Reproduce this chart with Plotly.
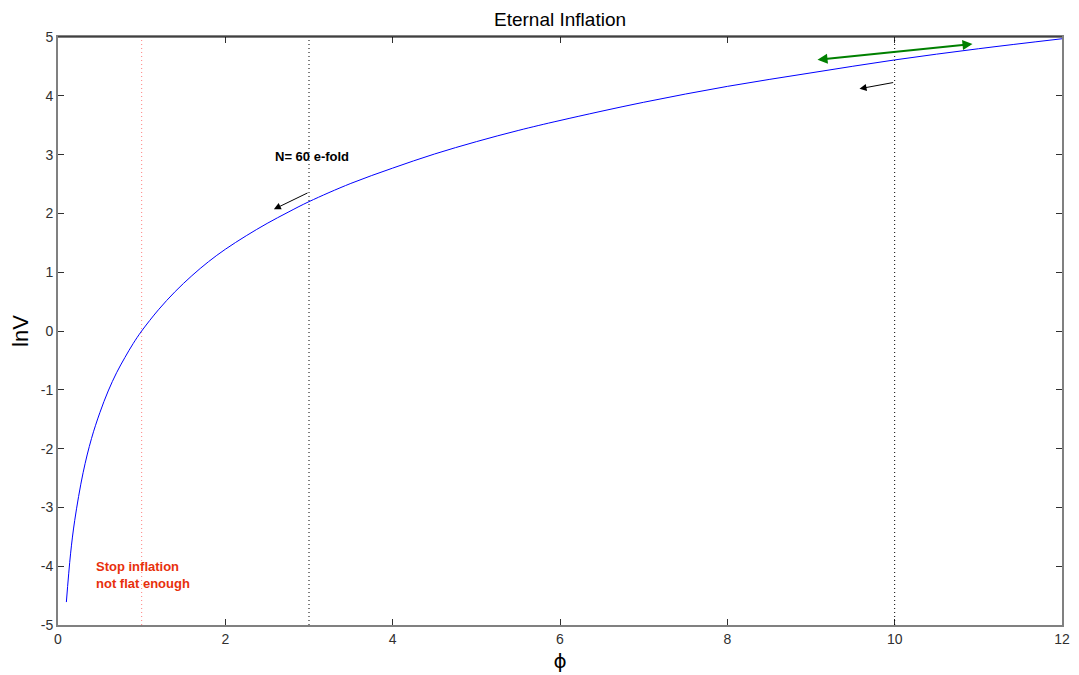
import plotly.graph_objects as go

# Curve values
phi = [0.1, 0.15, 0.2, 0.3, 0.4, 0.5, 0.6, 0.7, 0.8, 0.9, 1.0, 1.2, 1.4, 1.6, 1.8,
       2.0, 2.25, 2.5, 2.75, 3.0, 3.5, 4.0, 4.5, 5.0, 5.5, 6.0, 7.0, 8.0, 9.0,
       10.0, 11.0, 12.0]
lnV = [-4.61, -3.79, -3.22, -2.41, -1.83, -1.39, -1.02, -0.71, -0.45, -0.21, 0.0,
       0.36, 0.67, 0.94, 1.18, 1.39, 1.62, 1.83, 2.02, 2.20, 2.51, 2.77, 3.01,
       3.22, 3.41, 3.58, 3.89, 4.16, 4.39, 4.61, 4.80, 4.97]

x_ticks = [0, 2, 4, 6, 8, 10, 12]
x_tick_labels = ["0", "2", "4", "6", "8", "10", "12"]
y_ticks = [-5, -4, -3, -2, -1, 0, 1, 2, 3, 4, 5]
y_tick_labels = ["-5", "-4", "-3", "-2", "-1", "0", "1", "2", "3", "4", "5"]

red_line_x = [1]
black_lines_x = [3, 10]

# arrows: (tail_x, tail_y, head_x, head_y)
black_arrows = [(3.0, 2.36, 2.58, 2.07), (10.0, 4.23, 9.58, 4.12)]
green_arrow = (9.06, 4.61, 10.93, 4.88)

FONT = "Arial, Liberation Sans"

fig = go.Figure()
fig.add_trace(go.Scatter(x=phi, y=lnV, mode="lines", line_shape="spline",
                         line=dict(color="#0000ff", width=1), showlegend=False))

for xv in red_line_x:
    fig.add_shape(type="line", x0=xv, x1=xv, y0=-5, y1=5, xref="x", yref="y",
                  line=dict(color="#ff8080", width=1, dash="1px,3px"))
for xv in black_lines_x:
    fig.add_shape(type="line", x0=xv, x1=xv, y0=-5, y1=5, xref="x", yref="y",
                  line=dict(color="#000000", width=1, dash="1px,3px"))

# top border black
fig.add_shape(type="line", x0=0, x1=1, y0=1, y1=1, xref="paper", yref="paper",
              line=dict(color="#000000", width=1))

for tx, ty, hx, hy in black_arrows:
    fig.add_annotation(x=hx, y=hy, ax=tx, ay=ty, xref="x", yref="y", axref="x", ayref="y",
                       text="", showarrow=True, arrowhead=2, arrowsize=1.4,
                       arrowwidth=1, arrowcolor="#000000")

gx0, gy0, gx1, gy1 = green_arrow
fig.add_annotation(x=gx1, y=gy1, ax=gx0, ay=gy0, xref="x", yref="y", axref="x", ayref="y",
                   text="", showarrow=True, arrowhead=2, arrowside="end+start",
                   arrowsize=1.0, arrowwidth=2, arrowcolor="#008000")

fig.add_annotation(x=3.04, y=2.96, xref="x", yref="y", text="<b>N= 60 e-fold</b>",
                   showarrow=False, font=dict(family=FONT, size=13, color="#000000"))
fig.add_annotation(x=0.43, y=-4.15, xref="x", yref="y", xanchor="left",
                   text="<b>Stop inflation<br>not flat enough</b>", align="left",
                   showarrow=False,
                   font=dict(family=FONT, size=13, color="#e8300c"))

axis_common = dict(showgrid=False, zeroline=False, showline=True, linecolor="#808080",
                   linewidth=2, mirror="ticks", ticks="inside", ticklen=6,
                   tickcolor="#303030", automargin=False,
                   tickfont=dict(family=FONT, size=14, color="#303030"))

# page body adds an 8px offset; size the figure to fit the window
W, H = 1071, 667
fig.update_layout(
    width=W, height=H,
    margin=dict(l=50, r=17, t=29, b=50, autoexpand=False),
    plot_bgcolor="white", paper_bgcolor="white",
    title=dict(text="Eternal Inflation", x=552 / W, xanchor="center",
               y=1 - 11 / H, yanchor="middle",
               font=dict(family=FONT, size=19, color="#000000")),
    xaxis=dict(range=[0, 12], tickvals=x_ticks, ticktext=x_tick_labels,
               title=dict(text="ϕ", standoff=8,
                          font=dict(family="DejaVu Sans", size=20, color="#000000")),
               **axis_common),
    yaxis=dict(range=[-5, 5], tickvals=y_ticks, ticktext=y_tick_labels,
               title=dict(text="lnV", standoff=14,
                          font=dict(family=FONT, size=22, color="#000000")),
               **axis_common),
)

fig.write_html("out.html")
